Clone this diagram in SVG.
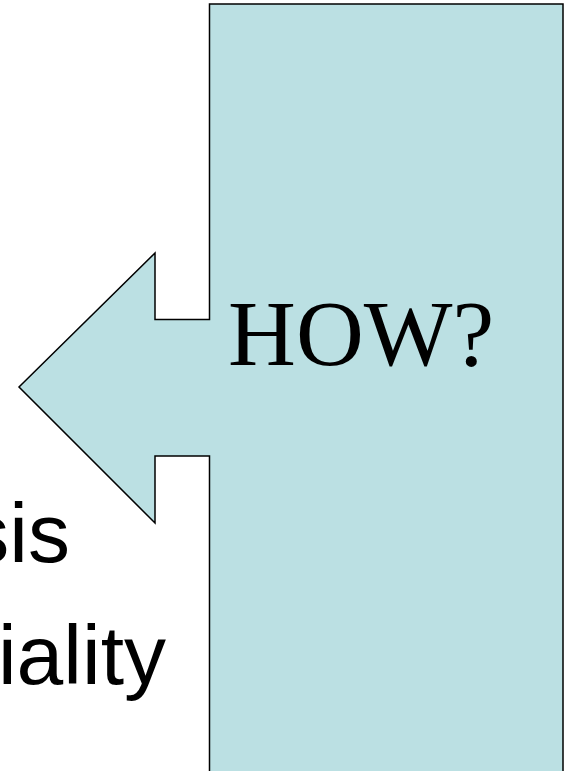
<svg xmlns="http://www.w3.org/2000/svg" width="571" height="771" viewBox="0 0 571 771">
<style>
.shape{fill:#BBE0E3;stroke:#000;stroke-width:1.5;stroke-linejoin:miter}
.body{font-family:"Liberation Sans",Arial,sans-serif;font-size:84px;fill:#000}
.how{font-family:"Liberation Serif","Times New Roman",serif;font-size:94px;fill:#000}
</style>
<rect width="571" height="771" fill="#fff"/>
<g id="bullets">
<text class="body" x="70" y="562" text-anchor="end">sis</text>
<text class="body" x="166" y="684" text-anchor="end">iality</text>
</g>
<g id="callout">
<path class="shape" d="M209.5,4 H563 V780 H209.5 V456 H155 V523 L19,387 L155,253 V319.5 H209.5 Z"/>
<text class="how" x="228" y="365">HOW?</text>
</g>
</svg>
